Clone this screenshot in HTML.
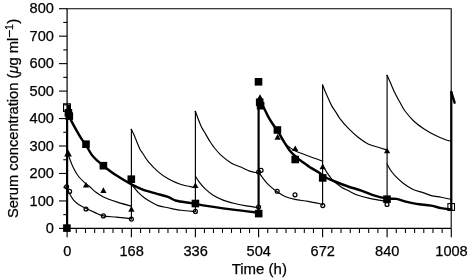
<!DOCTYPE html>
<html><head><meta charset="utf-8"><style>
html,body{margin:0;padding:0;background:#fff;}
svg{display:block}
text{font-family:"Liberation Sans",sans-serif;font-size:15px;fill:#000;stroke:#000;stroke-width:0.25px}
svg{will-change:transform;opacity:0.999}
</style></head><body>
<svg width="468" height="278" viewBox="0 0 468 278">
<rect width="468" height="278" fill="#fff"/>
<path d="M66.60,8.70 H451.20 V228.40" fill="none" stroke="#000" stroke-width="1.1"/>
<path d="M67.10,8.70 V228.40 H451.20" fill="none" stroke="#000" stroke-width="1.2"/>
<path d="M59.00,228.40 H67.10" stroke="#000" stroke-width="1.1"/>
<path d="M63.30,214.67 H67.10" stroke="#000" stroke-width="1.1"/>
<path d="M59.00,200.94 H67.10" stroke="#000" stroke-width="1.1"/>
<path d="M63.30,187.21 H67.10" stroke="#000" stroke-width="1.1"/>
<path d="M59.00,173.48 H67.10" stroke="#000" stroke-width="1.1"/>
<path d="M63.30,159.74 H67.10" stroke="#000" stroke-width="1.1"/>
<path d="M59.00,146.01 H67.10" stroke="#000" stroke-width="1.1"/>
<path d="M63.30,132.28 H67.10" stroke="#000" stroke-width="1.1"/>
<path d="M59.00,118.55 H67.10" stroke="#000" stroke-width="1.1"/>
<path d="M63.30,104.82 H67.10" stroke="#000" stroke-width="1.1"/>
<path d="M59.00,91.09 H67.10" stroke="#000" stroke-width="1.1"/>
<path d="M63.30,77.36 H67.10" stroke="#000" stroke-width="1.1"/>
<path d="M59.00,63.62 H67.10" stroke="#000" stroke-width="1.1"/>
<path d="M63.30,49.89 H67.10" stroke="#000" stroke-width="1.1"/>
<path d="M59.00,36.16 H67.10" stroke="#000" stroke-width="1.1"/>
<path d="M63.30,22.43 H67.10" stroke="#000" stroke-width="1.1"/>
<path d="M59.00,8.70 H67.10" stroke="#000" stroke-width="1.1"/>
<path d="M67.10,228.40 V237.20" stroke="#000" stroke-width="1.15"/>
<path d="M76.29,228.40 V232.90" stroke="#000" stroke-width="1.05"/>
<path d="M85.47,228.40 V232.90" stroke="#000" stroke-width="1.05"/>
<path d="M94.66,228.40 V232.90" stroke="#000" stroke-width="1.05"/>
<path d="M103.84,228.40 V232.90" stroke="#000" stroke-width="1.05"/>
<path d="M113.03,228.40 V232.90" stroke="#000" stroke-width="1.05"/>
<path d="M122.21,228.40 V232.90" stroke="#000" stroke-width="1.05"/>
<path d="M131.40,228.40 V237.20" stroke="#000" stroke-width="1.15"/>
<path d="M140.54,228.40 V232.90" stroke="#000" stroke-width="1.05"/>
<path d="M149.69,228.40 V232.90" stroke="#000" stroke-width="1.05"/>
<path d="M158.83,228.40 V232.90" stroke="#000" stroke-width="1.05"/>
<path d="M167.97,228.40 V232.90" stroke="#000" stroke-width="1.05"/>
<path d="M177.11,228.40 V232.90" stroke="#000" stroke-width="1.05"/>
<path d="M186.26,228.40 V232.90" stroke="#000" stroke-width="1.05"/>
<path d="M195.40,228.40 V237.20" stroke="#000" stroke-width="1.15"/>
<path d="M204.43,228.40 V232.90" stroke="#000" stroke-width="1.05"/>
<path d="M213.46,228.40 V232.90" stroke="#000" stroke-width="1.05"/>
<path d="M222.49,228.40 V232.90" stroke="#000" stroke-width="1.05"/>
<path d="M231.51,228.40 V232.90" stroke="#000" stroke-width="1.05"/>
<path d="M240.54,228.40 V232.90" stroke="#000" stroke-width="1.05"/>
<path d="M249.57,228.40 V232.90" stroke="#000" stroke-width="1.05"/>
<path d="M258.60,228.40 V237.20" stroke="#000" stroke-width="1.15"/>
<path d="M267.74,228.40 V232.90" stroke="#000" stroke-width="1.05"/>
<path d="M276.89,228.40 V232.90" stroke="#000" stroke-width="1.05"/>
<path d="M286.03,228.40 V232.90" stroke="#000" stroke-width="1.05"/>
<path d="M295.17,228.40 V232.90" stroke="#000" stroke-width="1.05"/>
<path d="M304.31,228.40 V232.90" stroke="#000" stroke-width="1.05"/>
<path d="M313.46,228.40 V232.90" stroke="#000" stroke-width="1.05"/>
<path d="M322.60,228.40 V237.20" stroke="#000" stroke-width="1.15"/>
<path d="M331.81,228.40 V232.90" stroke="#000" stroke-width="1.05"/>
<path d="M341.03,228.40 V232.90" stroke="#000" stroke-width="1.05"/>
<path d="M350.24,228.40 V232.90" stroke="#000" stroke-width="1.05"/>
<path d="M359.46,228.40 V232.90" stroke="#000" stroke-width="1.05"/>
<path d="M368.67,228.40 V232.90" stroke="#000" stroke-width="1.05"/>
<path d="M377.89,228.40 V232.90" stroke="#000" stroke-width="1.05"/>
<path d="M387.10,228.40 V237.20" stroke="#000" stroke-width="1.15"/>
<path d="M396.27,228.40 V232.90" stroke="#000" stroke-width="1.05"/>
<path d="M405.44,228.40 V232.90" stroke="#000" stroke-width="1.05"/>
<path d="M414.61,228.40 V232.90" stroke="#000" stroke-width="1.05"/>
<path d="M423.79,228.40 V232.90" stroke="#000" stroke-width="1.05"/>
<path d="M432.96,228.40 V232.90" stroke="#000" stroke-width="1.05"/>
<path d="M442.13,228.40 V232.90" stroke="#000" stroke-width="1.05"/>
<path d="M451.30,228.40 V237.20" stroke="#000" stroke-width="1.15"/>
<rect x="63.55" y="103.8" width="6.8" height="7.6" fill="none" stroke="#000" stroke-width="1.1"/>
<rect x="447.9" y="203.6" width="6.6" height="6.8" fill="none" stroke="#000" stroke-width="1.1"/>
<rect x="63.10" y="224.30" width="7.6" height="7.6" fill="#000"/>
<rect x="64.60" y="109.00" width="7.6" height="7.6" fill="#000"/>
<rect x="65.50" y="112.30" width="7.6" height="7.6" fill="#000"/>
<rect x="82.20" y="140.40" width="7.6" height="7.6" fill="#000"/>
<rect x="99.60" y="161.90" width="7.6" height="7.6" fill="#000"/>
<rect x="127.50" y="175.40" width="7.6" height="7.6" fill="#000"/>
<rect x="191.60" y="199.70" width="7.6" height="7.6" fill="#000"/>
<rect x="254.90" y="209.80" width="7.6" height="7.6" fill="#000"/>
<rect x="254.70" y="78.00" width="7.6" height="7.6" fill="#000"/>
<rect x="255.90" y="98.50" width="7.6" height="7.6" fill="#000"/>
<rect x="256.80" y="101.90" width="7.6" height="7.6" fill="#000"/>
<rect x="273.60" y="126.20" width="7.6" height="7.6" fill="#000"/>
<rect x="291.40" y="155.70" width="7.6" height="7.6" fill="#000"/>
<rect x="318.90" y="174.10" width="7.6" height="7.6" fill="#000"/>
<rect x="383.20" y="195.40" width="7.6" height="7.6" fill="#000"/>
<rect x="66.7" y="104.5" width="4.2" height="5" fill="#000"/>
<path d="M86.00,181.90 L89.10,187.50 L82.90,187.50 Z" fill="#000"/>
<path d="M103.40,187.30 L106.50,192.90 L100.30,192.90 Z" fill="#000"/>
<path d="M131.40,206.10 L134.50,211.70 L128.30,211.70 Z" fill="#000"/>
<path d="M195.40,182.40 L198.50,188.00 L192.30,188.00 Z" fill="#000"/>
<path d="M260.00,94.20 L263.10,99.80 L256.90,99.80 Z" fill="#000"/>
<path d="M277.60,134.10 L280.70,139.70 L274.50,139.70 Z" fill="#000"/>
<path d="M295.20,145.40 L298.30,151.00 L292.10,151.00 Z" fill="#000"/>
<path d="M322.60,163.70 L325.70,169.30 L319.50,169.30 Z" fill="#000"/>
<path d="M387.10,147.70 L390.20,153.30 L384.00,153.30 Z" fill="#000"/>
<path d="M67.9,149.2 L71.9,156.5 L64.2,156.5 Z" fill="#000"/>
<circle cx="66.60" cy="186.70" r="1.95" fill="none" stroke="#000" stroke-width="1.25"/>
<circle cx="69.60" cy="191.40" r="1.95" fill="none" stroke="#000" stroke-width="1.25"/>
<circle cx="86.00" cy="209.00" r="1.95" fill="none" stroke="#000" stroke-width="1.25"/>
<circle cx="103.40" cy="215.90" r="1.95" fill="none" stroke="#000" stroke-width="1.25"/>
<circle cx="131.40" cy="219.10" r="1.95" fill="none" stroke="#000" stroke-width="1.25"/>
<circle cx="195.40" cy="211.40" r="1.95" fill="none" stroke="#000" stroke-width="1.25"/>
<circle cx="258.60" cy="207.00" r="1.95" fill="none" stroke="#000" stroke-width="1.25"/>
<circle cx="258.60" cy="172.00" r="1.95" fill="none" stroke="#000" stroke-width="1.25"/>
<circle cx="261.10" cy="170.30" r="1.95" fill="none" stroke="#000" stroke-width="1.25"/>
<circle cx="277.20" cy="191.20" r="1.95" fill="none" stroke="#000" stroke-width="1.25"/>
<circle cx="295.00" cy="194.80" r="1.95" fill="none" stroke="#000" stroke-width="1.25"/>
<circle cx="322.80" cy="205.60" r="1.95" fill="none" stroke="#000" stroke-width="1.25"/>
<circle cx="387.00" cy="204.50" r="1.95" fill="none" stroke="#000" stroke-width="1.25"/>
<path d="M67.10,150.00 C67.50,151.37 68.42,155.17 69.50,158.20 C70.58,161.23 72.08,165.15 73.60,168.20 C75.12,171.25 76.67,174.02 78.60,176.50 C80.53,178.98 83.42,181.47 85.20,183.10 C86.98,184.73 87.65,184.88 89.30,186.30 C90.95,187.72 92.75,189.83 95.10,191.60 C97.45,193.37 99.82,195.18 103.40,196.90 C106.98,198.62 111.93,200.35 116.60,201.90 C121.27,203.45 128.93,205.48 131.40,206.20" fill="none" stroke="#000" stroke-width="1.15" stroke-linejoin="round" stroke-linecap="round"/>
<path d="M131.40,219.00 L131.40,129.30" fill="none" stroke="#000" stroke-width="1.15" stroke-linejoin="round" stroke-linecap="round"/>
<path d="M131.40,129.30 C131.90,130.38 133.42,133.52 134.40,135.80 C135.38,138.08 136.35,140.72 137.30,143.00 C138.25,145.28 139.15,147.70 140.10,149.50 C141.05,151.30 141.57,151.68 143.00,153.80 C144.43,155.92 146.20,159.23 148.70,162.20 C151.20,165.17 154.77,168.83 158.00,171.60 C161.23,174.37 164.27,176.65 168.10,178.80 C171.93,180.95 176.45,183.03 181.00,184.50 C185.55,185.97 193.00,187.08 195.40,187.60" fill="none" stroke="#000" stroke-width="1.15" stroke-linejoin="round" stroke-linecap="round"/>
<path d="M195.40,211.50 L195.40,111.30" fill="none" stroke="#000" stroke-width="1.15" stroke-linejoin="round" stroke-linecap="round"/>
<path d="M195.40,111.30 C195.82,112.45 196.93,115.67 197.90,118.20 C198.87,120.73 200.08,124.15 201.20,126.50 C202.32,128.85 203.25,129.98 204.60,132.30 C205.95,134.62 207.78,137.97 209.30,140.40 C210.82,142.83 211.67,144.35 213.70,146.90 C215.73,149.45 218.53,152.98 221.50,155.70 C224.47,158.42 228.18,161.27 231.50,163.20 C234.82,165.13 238.37,165.98 241.40,167.30 C244.43,168.62 246.83,170.13 249.70,171.10 C252.57,172.07 257.12,172.77 258.60,173.10" fill="none" stroke="#000" stroke-width="1.15" stroke-linejoin="round" stroke-linecap="round"/>
<path d="M258.60,100.00 C259.52,101.38 262.50,105.53 264.10,108.30 C265.70,111.07 266.68,113.85 268.20,116.60 C269.72,119.35 271.68,122.52 273.20,124.80 C274.72,127.08 275.63,127.73 277.30,130.30 C278.97,132.87 281.65,137.77 283.20,140.20 C284.75,142.63 284.67,143.15 286.60,144.90 C288.53,146.65 292.05,149.18 294.80,150.70 C297.55,152.22 300.07,152.82 303.10,154.00 C306.13,155.18 309.75,156.62 313.00,157.80 C316.25,158.98 321.00,160.55 322.60,161.10" fill="none" stroke="#000" stroke-width="1.15" stroke-linejoin="round" stroke-linecap="round"/>
<path d="M322.60,205.00 L322.60,84.90" fill="none" stroke="#000" stroke-width="1.15" stroke-linejoin="round" stroke-linecap="round"/>
<path d="M322.60,84.90 C322.97,85.83 324.00,88.57 324.80,90.50 C325.60,92.43 326.27,93.98 327.40,96.50 C328.53,99.02 330.08,102.83 331.60,105.60 C333.12,108.37 335.12,110.93 336.50,113.10 C337.88,115.27 337.95,116.08 339.90,118.60 C341.85,121.12 345.17,125.08 348.20,128.20 C351.23,131.32 354.78,134.68 358.10,137.30 C361.42,139.92 364.50,142.17 368.10,143.90 C371.70,145.63 376.53,146.67 379.70,147.70 C382.87,148.73 385.87,149.70 387.10,150.10" fill="none" stroke="#000" stroke-width="1.15" stroke-linejoin="round" stroke-linecap="round"/>
<path d="M387.10,201.40 L387.10,75.30" fill="none" stroke="#000" stroke-width="1.15" stroke-linejoin="round" stroke-linecap="round"/>
<path d="M387.10,75.30 C387.57,76.35 388.60,78.63 389.90,81.60 C391.20,84.57 393.23,89.65 394.90,93.10 C396.57,96.55 398.22,99.32 399.90,102.30 C401.58,105.28 402.62,107.80 405.00,111.00 C407.38,114.20 411.02,118.50 414.20,121.50 C417.38,124.50 420.52,126.65 424.10,129.00 C427.68,131.35 432.12,133.82 435.70,135.60 C439.28,137.38 443.00,138.75 445.60,139.70 C448.20,140.65 450.35,141.03 451.30,141.30" fill="none" stroke="#000" stroke-width="1.15" stroke-linejoin="round" stroke-linecap="round"/>
<path d="M67.50,188.50 C67.83,189.35 68.48,191.65 69.50,193.60 C70.52,195.55 72.08,198.40 73.60,200.20 C75.12,202.00 76.53,203.02 78.60,204.40 C80.67,205.78 83.25,207.13 86.00,208.50 C88.75,209.87 92.20,211.37 95.10,212.60 C98.00,213.83 99.82,215.15 103.40,215.90 C106.98,216.65 111.93,216.62 116.60,217.10 C121.27,217.58 128.93,218.52 131.40,218.80" fill="none" stroke="#000" stroke-width="1.15" stroke-linejoin="round" stroke-linecap="round"/>
<path d="M131.40,184.40 C132.53,185.73 135.95,190.10 138.20,192.40 C140.45,194.70 142.68,196.55 144.90,198.20 C147.12,199.85 149.30,201.07 151.50,202.30 C153.70,203.53 155.35,204.68 158.10,205.60 C160.85,206.52 164.13,207.02 168.00,207.80 C171.87,208.58 176.73,209.68 181.30,210.30 C185.87,210.92 193.05,211.30 195.40,211.50" fill="none" stroke="#000" stroke-width="1.15" stroke-linejoin="round" stroke-linecap="round"/>
<path d="M195.40,176.10 C196.02,177.07 197.52,179.82 199.10,181.90 C200.68,183.98 202.55,186.38 204.90,188.60 C207.25,190.82 210.17,193.28 213.20,195.20 C216.23,197.12 219.52,198.72 223.10,200.10 C226.68,201.48 230.83,202.53 234.70,203.50 C238.57,204.47 242.32,205.22 246.30,205.90 C250.28,206.58 256.55,207.32 258.60,207.60" fill="none" stroke="#000" stroke-width="1.15" stroke-linejoin="round" stroke-linecap="round"/>
<path d="M258.60,172.00 C259.43,173.18 261.93,176.95 263.60,179.10 C265.27,181.25 266.40,182.83 268.60,184.90 C270.80,186.97 274.05,189.57 276.80,191.50 C279.55,193.43 282.07,195.18 285.10,196.50 C288.13,197.82 291.13,198.58 295.00,199.40 C298.87,200.22 303.70,200.57 308.30,201.40 C312.90,202.23 320.22,203.90 322.60,204.40" fill="none" stroke="#000" stroke-width="1.15" stroke-linejoin="round" stroke-linecap="round"/>
<path d="M322.60,164.60 C322.93,165.27 323.80,167.17 324.60,168.60 C325.40,170.03 325.97,171.18 327.40,173.20 C328.83,175.22 330.85,178.35 333.20,180.70 C335.55,183.05 339.02,185.65 341.50,187.30 C343.98,188.95 345.35,189.27 348.10,190.60 C350.85,191.93 354.42,194.00 358.00,195.30 C361.58,196.60 364.75,197.38 369.60,198.40 C374.45,199.42 384.18,200.90 387.10,201.40" fill="none" stroke="#000" stroke-width="1.15" stroke-linejoin="round" stroke-linecap="round"/>
<path d="M387.10,164.10 C387.57,164.93 388.60,167.17 389.90,169.10 C391.20,171.03 392.68,173.35 394.90,175.70 C397.12,178.05 400.17,180.90 403.20,183.20 C406.23,185.50 409.80,187.93 413.10,189.50 C416.40,191.07 419.97,191.58 423.00,192.60 C426.03,193.62 428.25,194.82 431.30,195.60 C434.35,196.38 437.97,196.67 441.30,197.30 C444.63,197.93 449.63,199.05 451.30,199.40" fill="none" stroke="#000" stroke-width="1.15" stroke-linejoin="round" stroke-linecap="round"/>
<path d="M67.10,228.40 L67.10,112.00" fill="none" stroke="#000" stroke-width="2.2" stroke-linejoin="round" stroke-linecap="round"/>
<path d="M67.10,112.00 C67.72,113.32 69.22,116.78 70.80,119.90 C72.38,123.02 74.82,127.53 76.60,130.70 C78.38,133.87 79.98,136.58 81.50,138.90 C83.02,141.22 83.98,141.93 85.70,144.60 C87.42,147.27 89.83,152.20 91.80,154.90 C93.77,157.60 95.57,158.97 97.50,160.80 C99.43,162.63 100.22,163.43 103.40,165.90 C106.58,168.37 111.92,172.52 116.60,175.60 C121.28,178.68 127.33,182.15 131.50,184.40 C135.67,186.65 137.72,187.63 141.60,189.10 C145.48,190.57 150.40,191.90 154.80,193.20 C159.20,194.50 164.42,195.65 168.00,196.90 C171.58,198.15 172.43,199.67 176.30,200.70 C180.17,201.73 186.15,202.23 191.20,203.10 C196.25,203.97 201.28,205.02 206.60,205.90 C211.92,206.78 217.58,207.65 223.10,208.40 C228.62,209.15 233.78,209.67 239.70,210.40 C245.62,211.13 255.45,212.40 258.60,212.80" fill="none" stroke="#000" stroke-width="2.45" stroke-linejoin="round" stroke-linecap="round"/>
<path d="M258.60,212.80 L258.60,100.00" fill="none" stroke="#000" stroke-width="2.2" stroke-linejoin="round" stroke-linecap="round"/>
<path d="M258.60,100.00 C259.52,101.38 262.50,105.53 264.10,108.30 C265.70,111.07 266.68,113.85 268.20,116.60 C269.72,119.35 271.68,122.52 273.20,124.80 C274.72,127.08 275.63,127.68 277.30,130.30 C278.97,132.92 281.10,137.10 283.20,140.50 C285.30,143.90 287.68,147.90 289.90,150.70 C292.12,153.50 294.30,155.37 296.50,157.30 C298.70,159.23 300.62,160.50 303.10,162.30 C305.58,164.10 308.63,166.32 311.40,168.10 C314.17,169.88 317.72,171.65 319.70,173.00 C321.68,174.35 320.77,174.78 323.30,176.20 C325.83,177.62 330.77,179.78 334.90,181.50 C339.03,183.22 343.68,184.98 348.10,186.50 C352.52,188.02 356.98,189.08 361.40,190.60 C365.82,192.12 370.28,194.28 374.60,195.60 C378.92,196.92 383.63,197.95 387.30,198.50 C390.97,199.05 393.68,198.42 396.60,198.90 C399.52,199.38 401.50,200.57 404.80,201.40 C408.10,202.23 412.03,203.20 416.40,203.90 C420.77,204.60 426.88,204.90 431.00,205.60 C435.12,206.30 437.72,207.47 441.10,208.10 C444.48,208.73 449.60,209.18 451.30,209.40" fill="none" stroke="#000" stroke-width="2.45" stroke-linejoin="round" stroke-linecap="round"/>
<path d="M451.30,209.40 L451.30,92.00" fill="none" stroke="#000" stroke-width="2.2" stroke-linejoin="round" stroke-linecap="round"/>
<path d="M451.30,92.00 L454.60,102.70" fill="none" stroke="#000" stroke-width="2.45" stroke-linejoin="round" stroke-linecap="round"/>
<text x="53.9" y="233.10" text-anchor="end" style="font-size:14.6px">0</text>
<text x="53.9" y="205.64" text-anchor="end" style="font-size:14.6px">100</text>
<text x="53.9" y="178.18" text-anchor="end" style="font-size:14.6px">200</text>
<text x="53.9" y="150.71" text-anchor="end" style="font-size:14.6px">300</text>
<text x="53.9" y="123.25" text-anchor="end" style="font-size:14.6px">400</text>
<text x="53.9" y="95.79" text-anchor="end" style="font-size:14.6px">500</text>
<text x="53.9" y="68.33" text-anchor="end" style="font-size:14.6px">600</text>
<text x="53.9" y="40.86" text-anchor="end" style="font-size:14.6px">700</text>
<text x="53.9" y="13.40" text-anchor="end" style="font-size:14.6px">800</text>
<text x="67.30" y="256.3" text-anchor="middle" style="font-size:14.6px">0</text>
<text x="131.60" y="256.3" text-anchor="middle" style="font-size:14.6px">168</text>
<text x="195.60" y="256.3" text-anchor="middle" style="font-size:14.6px">336</text>
<text x="258.80" y="256.3" text-anchor="middle" style="font-size:14.6px">504</text>
<text x="322.80" y="256.3" text-anchor="middle" style="font-size:14.6px">672</text>
<text x="387.30" y="256.3" text-anchor="middle" style="font-size:14.6px">840</text>
<text x="451.50" y="256.3" text-anchor="middle" style="font-size:14.6px">1008</text>
<text x="259.3" y="274" text-anchor="middle">Time (h)</text>
<g transform="translate(18.3,0) rotate(-90)"><text x="-37.8" y="0" text-anchor="end" style="font-size:14.7px">Serum concentration (<tspan font-style="italic">μ</tspan>g ml</text><path d="M-37.1,-8.8 H-30.2" stroke="#000" stroke-width="1.1"/><text x="-30.1" y="-5.7" style="font-size:10.5px">1</text><text x="-23.8" y="0" style="font-size:15px">)</text></g>
</svg>
</body></html>
